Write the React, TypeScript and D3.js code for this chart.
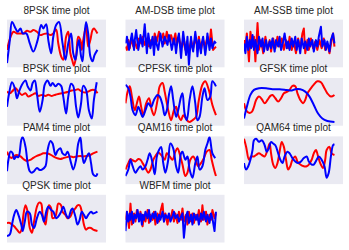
import React from "react";
import * as d3 from "d3";

type Pt = [number, number];

// sample index, amplitude (I = red, Q = blue)
const psk8I: Pt[] = [[0,-0.27],[5,0.28],[9,0.49],[14,0.42],[19,0.42],[23,0.42],[28,0.53],[33,0.49],[37,0.56],[42,0.49],[47,0.35],[51,0.39],[56,0.42],[61,0.35],[65,0.42],[69,0.59],[72,0],[76,-0.54],[79,-0.68],[83,0.28],[86,0.49],[89,-0.41],[92,-0.75],[94,-0.93],[97,-0.54],[100,0.28],[103,0.14],[105,-0.27],[107,0.14],[111,0.7],[114,-0.13],[117,0.14],[120,0.56],[122,0.63],[127,0.42]];
const psk8Q: Pt[] = [[0,-0.82],[4,0.14],[7,0.9],[12,0.63],[15,0.49],[19,0.63],[22,0.42],[27,0.42],[32,0],[37,-0.34],[43,0.14],[48,0.77],[51,0.63],[55,0.81],[58,0.14],[62,-0.41],[65,0.28],[69,0.77],[73,0.9],[78,0],[82,-0.68],[86,0],[90,0.42],[93,-0.41],[96,-0.68],[99,-0.13],[101,0.14],[104,-0.54],[106,-0.75],[108,0],[111,0.9],[114,0.42],[117,-0.54],[120,-0.75],[123,-0.48],[127,-0.27]];

const amDsbI: Pt[] = [[0,-0.13],[2,-0.27],[4,0.14],[6,-0.2],[8,0.21],[11,-0.13],[13,0.08],[16,-0.2],[19,0.21],[22,0],[24,0.28],[27,-0.06],[30,0.21],[33,-0.13],[36,0.14],[39,-0.06],[41,0.42],[44,0.08],[47,0.49],[50,0.14],[53,0.42],[55,0],[58,0.49],[61,0.08],[64,0.35],[67,0],[70,0.42],[72,-0.06],[75,0.28],[78,-0.2],[81,0.14],[84,-0.27],[86,0.08],[89,-0.34],[92,0.14],[95,-0.2],[98,0.21],[101,-0.13],[103,0.28],[106,-0.27],[109,0.14],[112,-0.13],[115,0.28],[118,-0.06],[120,0.59],[123,-0.27],[127,-0.13]];
const amDsbQ: Pt[] = [[0,0],[2,0.28],[5,-0.27],[7,0.08],[9,0.42],[12,-0.27],[13,0.14],[15,0.56],[18,-0.27],[20,0.08],[21,0.35],[24,-0.13],[27,0.81],[30,-0.41],[32,0.42],[34,0],[35,-0.2],[38,0.28],[40,-0.48],[42,0.28],[44,-0.06],[46,-0.27],[49,0.42],[52,-0.13],[54,0.14],[55,0.28],[59,-0.06],[61,0.35],[63,0.08],[65,-0.27],[68,0.21],[70,-0.13],[71,-0.41],[73,0.14],[75,0.42],[78,-0.61],[81,0.49],[83,0],[85,-0.48],[87,0.28],[89,-0.89],[92,0.28],[93,-0.06],[95,-0.34],[98,0.49],[100,0],[101,-0.54],[103,0.14],[106,-0.41],[107,0],[109,0.28],[112,-0.48],[114,0],[115,0.42],[118,-0.27],[120,0.21],[122,-0.2],[125,0.08],[127,0]];

const amSsbI: Pt[] = [[0,0.14],[2,-0.13],[4,0.42],[7,-0.75],[9,0.49],[12,-0.13],[14,0.28],[16,-0.75],[19,0.86],[21,-0.27],[24,0.14],[27,-0.41],[30,0.28],[33,-0.27],[36,0.14],[38,-0.34],[41,0.21],[44,-0.2],[47,0.28],[50,-0.13],[53,0.21],[56,-0.27],[59,0.14],[62,-0.2],[64,0.28],[67,-0.27],[70,0.08],[73,-0.41],[76,0.21],[79,-0.2],[82,0.42],[84,0.63],[86,-0.41],[89,0.14],[91,-0.27],[94,0.21],[97,-0.2],[100,0.08],[103,-0.27],[106,0.14],[109,-0.2],[112,0.21],[114,-0.27],[117,0],[120,-0.41],[123,0.14],[125,0.42],[127,-0.13]];
const amSsbQ: Pt[] = [[0,0],[2,-0.41],[4,0.28],[6,-0.27],[8,0.14],[10,-0.2],[12,0.35],[14,-0.27],[16,0.14],[19,-0.41],[21,0.28],[24,-0.13],[26,0.21],[28,-0.34],[31,0.14],[33,-0.27],[36,0.08],[38,-0.2],[40,0.21],[43,-0.34],[45,0.14],[48,-0.13],[50,0.28],[52,-0.27],[55,0.08],[57,0.42],[60,-0.2],[62,0.08],[64,-0.27],[67,0.21],[69,-0.13],[72,0.28],[74,-0.27],[76,0.14],[79,-0.41],[81,0.21],[84,-0.2],[86,0.08],[89,-0.27],[91,0.21],[93,-0.13],[96,0.14],[98,-0.34],[101,0.14],[103,-0.13],[105,0.28],[108,0.7],[110,-0.13],[113,0.14],[115,-0.27],[117,0.08],[120,-0.34],[122,0.14],[125,0.42],[127,0]];

const bpskI: Pt[] = [[0,0.43],[4,0.36],[7,0.43],[12,0.57],[16,0.43],[21,0.29],[26,0.36],[30,0.22],[35,0.29],[40,0.36],[44,0.25],[49,0.29],[54,0.25],[58,0.3],[63,0.25],[68,0.3],[72,0.33],[77,0.36],[82,0.39],[86,0.43],[91,0.48],[96,0.5],[100,0.53],[105,0.43],[110,0.39],[114,0.43],[119,0.5],[124,0.48],[127,0.36]];
const bpskQ: Pt[] = [[0,-0.21],[3,0.36],[7,0.82],[11,0.57],[14,0.15],[17,0.43],[21,0.72],[26,0.9],[29,0.65],[33,0.48],[36,0.79],[39,0.9],[42,0.36],[46,-0.42],[50,0.08],[53,0.72],[57,0.9],[61,0.67],[64,0.79],[68,0.65],[72,0.76],[76,0.67],[79,0.22],[83,-0.49],[86,0.22],[90,0.76],[93,0.67],[97,-0.21],[100,-0.66],[104,-0.06],[107,0.67],[111,0.5],[115,-0.35],[119,-0.7],[122,0.08],[126,0.82]];

const cpfskI: Pt[] = [[0,-0.06],[3,0.43],[6,0.65],[9,0.22],[13,-0.35],[16,-0.06],[19,0.22],[22,-0.21],[25,-0.56],[29,-0.06],[33,0.15],[37,-0.35],[40,-0.56],[45,0.08],[48,0.65],[52,0.79],[55,0.43],[60,-0.35],[64,-0.77],[68,-0.35],[71,-0.21],[74,-0.56],[78,-0.77],[81,-0.56],[85,-0.7],[89,-0.84],[94,-0.77],[99,-0.63],[103,0.08],[108,0.72],[112,0.86],[117,0.5],[122,-0.13],[127,-0.56]];
const cpfskQ: Pt[] = [[0,0.72],[4,0.57],[7,0.22],[10,-0.35],[14,-0.56],[18,-0.21],[21,-0.42],[24,-0.63],[28,-0.35],[32,-0.06],[36,-0.21],[40,0.08],[45,0.29],[48,0.22],[52,-0.13],[55,-0.56],[58,-0.35],[61,0.29],[64,0.65],[67,0.08],[71,-0.63],[74,-0.35],[78,0.22],[80,0.36],[83,-0.49],[86,-0.77],[90,0.08],[94,0.65],[98,-0.06],[101,-0.77],[104,-0.63],[108,0.22],[111,0.57],[115,0.08],[119,0.22],[122,0.86],[127,0.65]];

const gfskI: Pt[] = [[0,-0.06],[3,-0.35],[7,-0.46],[11,-0.42],[14,-0.21],[17,0.08],[21,0.22],[25,0.11],[29,-0.06],[33,0.08],[37,0.25],[40,0.29],[44,0.15],[48,0.01],[52,0.15],[56,0.36],[61,0.43],[64,0.5],[68,0.67],[72,0.65],[75,0.36],[79,0.08],[83,-0.06],[86,0.08],[89,0.36],[93,0.53],[98,0.72],[103,0.86],[108,0.82],[113,0.57],[117,0.36],[122,0.22],[127,0.29]];
const gfskQ: Pt[] = [[0,-0.7],[4,-0.21],[9,0.29],[14,0.5],[21,0.57],[31,0.57],[40,0.53],[50,0.53],[60,0.5],[67,0.48],[72,0.53],[79,0.53],[86,0.43],[92,0.22],[98,-0.13],[104,-0.49],[110,-0.7],[117,-0.8],[127,-0.84]];

const pam4I: Pt[] = [[0,0.36],[2,0.22],[6,0.09],[9,0.16],[14,0.22],[19,0.16],[23,0.05],[28,-0.03],[33,0.02],[37,0.1],[42,0.18],[47,0.24],[51,0.29],[56,0.29],[61,0.24],[65,0.16],[70,0.09],[75,0.05],[79,0.09],[84,0.13],[89,0.16],[93,0.13],[98,0.16],[103,0.18],[107,0.16],[112,0.18],[117,0.22],[121,0.29],[127,0.36]];
const pam4Q: Pt[] = [[0,-0.46],[2,0.02],[5,0.36],[8,0.29],[10,0.05],[13,0.16],[16,0.13],[20,0.84],[22,0.97],[26,0.56],[29,-0.12],[32,-0.46],[35,-0.52],[38,-0.46],[42,-0.32],[46,-0.41],[49,-0.39],[54,-0.25],[57,0.43],[61,0.81],[64,0.7],[68,0.22],[71,0.4],[75,0.5],[78,0.29],[82,0.22],[85,0.36],[90,-0.12],[93,-0.39],[97,0.02],[100,0.7],[103,0.95],[105,0.43],[108,-0.12],[112,0.16],[115,0.29],[118,-0.12],[121,-0.59],[125,-0.66],[127,-0.55]];

const qam16I: Pt[] = [[0,-0.39],[4,-0.12],[7,0.05],[10,0],[14,-0.05],[18,0.05],[21,0.02],[24,-0.12],[28,-0.32],[32,-0.52],[35,-0.39],[39,0.02],[42,0.18],[46,0.32],[51,0.18],[55,0.02],[58,0.29],[62,0.16],[66,0.02],[70,0.36],[73,0.5],[77,0.16],[80,-0.18],[84,-0.66],[87,-0.52],[91,0.02],[95,0.16],[99,-0.05],[102,-0.25],[106,-0.12],[110,0.09],[114,0.36],[118,0.43],[121,0.02],[125,-0.46],[127,-0.66]];
const qam16Q: Pt[] = [[0,-0.66],[4,-0.39],[7,0.02],[10,-0.25],[14,-0.52],[17,-0.39],[21,-0.25],[24,-0.39],[28,-0.25],[31,0.02],[34,0.29],[38,-0.12],[41,-0.59],[44,0.16],[47,0.43],[50,0.56],[53,-0.12],[56,-0.52],[60,0.02],[63,0.7],[67,0.5],[71,-0.25],[74,-0.52],[78,0.29],[80,0.36],[84,0.02],[87,0.16],[90,-0.39],[94,-0.73],[98,-0.12],[101,0.16],[104,-0.39],[108,-0.25],[112,0.43],[115,0.7],[118,0.97],[122,0.29],[126,0.09]];

const qam64I: Pt[] = [[0,0.9],[3,0.56],[7,0.02],[10,0.16],[14,0.16],[17,0.22],[21,0.29],[25,0.22],[29,0.16],[33,0.43],[36,0.7],[38,0.29],[41,-0.18],[44,-0.32],[47,-0.12],[50,0.36],[53,0.77],[56,0.56],[59,0.02],[62,-0.39],[65,-0.25],[68,0.02],[72,0.16],[75,-0.05],[79,-0.18],[84,-0.25],[88,-0.25],[91,-0.18],[95,0.02],[98,0.29],[101,0.43],[104,0.16],[107,-0.12],[111,-0.32],[114,0.02],[116,0.43],[120,0.56],[123,0.29],[127,0.22]];
const qam64Q: Pt[] = [[0,-0.12],[3,-0.39],[6,-0.25],[9,0.02],[12,0.43],[14,0.84],[17,0.9],[21,0.77],[25,0.84],[29,0.63],[32,0.36],[35,0.5],[38,0.77],[41,0.7],[44,0.63],[48,0.29],[51,0.02],[54,-0.12],[57,0.16],[61,0.36],[64,0.29],[68,0.09],[72,-0.05],[76,-0.12],[80,-0.05],[84,0.09],[88,0.16],[91,-0.05],[95,-0.18],[98,-0.18],[102,0.02],[105,0.16],[109,0.02],[113,-0.25],[116,-0.73],[119,-0.52],[122,0.16],[125,0.63],[127,0.67]];

const qpskI: Pt[] = [[0,-0.18],[4,-0.18],[7,-0.25],[10,-0.32],[14,-0.46],[18,-0.59],[21,-0.39],[23,0.16],[26,0.56],[29,0.29],[32,-0.39],[35,-0.59],[38,-0.12],[42,0.5],[45,0.67],[48,0.63],[50,0.16],[54,-0.25],[56,0.16],[59,0.56],[62,0.43],[64,0.02],[68,0.09],[70,0.36],[72,0.63],[76,0.56],[78,0.29],[82,0.16],[85,0.02],[89,0.09],[92,0.29],[96,0.43],[99,0.56],[102,0.56],[105,0.29],[108,-0.25],[111,-0.46],[114,-0.39],[118,-0.39],[121,-0.46],[127,-0.52]];
const qpskQ: Pt[] = [[0,-0.73],[4,-0.66],[7,-0.25],[10,0.16],[13,0.36],[16,0.16],[20,-0.25],[22,-0.52],[25,-0.12],[28,0.29],[32,0.22],[35,-0.25],[38,-0.39],[42,0.02],[46,0.29],[49,0.16],[52,-0.12],[55,0.29],[58,0.5],[62,0.36],[65,0.29],[69,0.02],[72,0.09],[76,0.29],[79,0.5],[83,0.16],[86,0.02],[90,0.36],[92,0.43],[96,0.09],[99,-0.25],[102,-0.05],[105,0.29],[108,0.16],[111,0.02],[114,0.16],[118,0.29],[121,0.22],[127,0.29]];

const wbfmI: Pt[] = [[0,-0.05],[2,0.29],[5,-0.39],[7,0.63],[9,-0.25],[12,0.22],[14,-0.12],[16,0.36],[19,-0.05],[21,0.29],[24,-0.32],[26,0.16],[28,-0.12],[31,0.36],[33,-0.18],[35,0.16],[38,-0.05],[40,0.29],[42,-0.25],[45,0.22],[47,-0.12],[49,0.29],[52,0.63],[54,-0.12],[56,0.22],[59,-0.25],[61,0.16],[63,-0.05],[66,0.36],[68,-0.12],[70,0.22],[73,-0.18],[75,0.29],[78,-0.05],[80,0.43],[82,-0.12],[85,0.16],[87,-0.25],[89,0.29],[92,-0.12],[94,0.22],[96,-0.18],[99,0.16],[101,-0.05],[103,0.36],[106,-0.12],[108,0.56],[110,-0.05],[113,0.29],[115,-0.25],[118,0.16],[120,-0.05],[122,0.36],[125,0.02],[127,0.22]];
const wbfmQ: Pt[] = [[0,-0.52],[2,0.29],[4,-0.12],[6,0.22],[7,-0.05],[9,0.29],[11,-0.18],[13,0.16],[15,0.02],[17,0.36],[19,-0.12],[21,0.22],[23,-0.25],[24,0.16],[26,-0.05],[28,0.29],[31,0.02],[33,0.36],[35,-0.12],[38,0.22],[40,0.02],[42,0.29],[45,-0.18],[47,0.16],[49,-0.05],[52,0.29],[54,-0.12],[56,0.16],[59,0.02],[61,0.22],[63,-0.12],[66,0.09],[68,0.29],[70,0.02],[73,0.16],[75,-0.12],[78,0.09],[80,0.22],[82,-0.8],[85,0.09],[87,0.29],[89,-0.18],[92,0.16],[94,-0.25],[96,0.22],[99,-0.05],[101,0.16],[103,-0.25],[106,0.22],[108,-0.05],[110,0.29],[113,-0.12],[115,0.16],[118,-0.18],[120,0.22],[122,0.02],[125,-0.52],[127,0.29]];

const panels = [
  { name: "8PSK", i: psk8I, q: psk8Q, noisy: false },
  { name: "AM-DSB", i: amDsbI, q: amDsbQ, noisy: true },
  { name: "AM-SSB", i: amSsbI, q: amSsbQ, noisy: true },
  { name: "BPSK", i: bpskI, q: bpskQ, noisy: false },
  { name: "CPFSK", i: cpfskI, q: cpfskQ, noisy: false },
  { name: "GFSK", i: gfskI, q: gfskQ, noisy: false },
  { name: "PAM4", i: pam4I, q: pam4Q, noisy: false },
  { name: "QAM16", i: qam16I, q: qam16Q, noisy: false },
  { name: "QAM64", i: qam64I, q: qam64Q, noisy: false },
  { name: "QPSK", i: qpskI, q: qpskQ, noisy: false },
  { name: "WBFM", i: wbfmI, q: wbfmQ, noisy: true },
];

const W = 349;
const H = 250;
const left0 = 7;
const top0 = 19.6;
const pw = 99;
const ph = 47.7;
const colStep = 118.5;
const rowStep = 58.4;

export default function App() {
  const x = d3.scaleLinear().domain([0, 139]).range([0, pw]);
  const y = d3.scaleLinear().domain([-1, 1]).range([ph, 0]);

  return (
    <svg
      width={W}
      height={H}
      style={{ position: "absolute", left: 0, top: 0, background: "#fff" }}
      fontFamily="'Liberation Sans', Arial, sans-serif"
    >
      {panels.map((p, k) => {
        const col = k % 3;
        const row = Math.floor(k / 3);
        const px = left0 + col * colStep;
        const py = top0 + row * rowStep;
        const line = d3
          .line<Pt>()
          .x((d) => x(d[0]))
          .y((d) => y(d[1]))
          .curve(p.noisy ? d3.curveLinear : d3.curveCatmullRom.alpha(0.5));
        return (
          <g key={p.name} transform={`translate(${px},${py})`}>
            <clipPath id={`clip${k}`}>
              <rect width={pw} height={ph} />
            </clipPath>
            <rect width={pw} height={ph} fill="#EAEAF2" />
            <g clipPath={`url(#clip${k})`}>
              <path d={line(p.i) ?? ""} fill="none" stroke="#FF0000" strokeWidth={2} strokeLinejoin="round" />
              <path d={line(p.q) ?? ""} fill="none" stroke="#0000FF" strokeWidth={2} strokeLinejoin="round" />
            </g>
            <text x={pw / 2} y={-5.7} textAnchor="middle" fontSize={10} fill="#262626">
              {p.name} time plot
            </text>
          </g>
        );
      })}
    </svg>
  );
}
